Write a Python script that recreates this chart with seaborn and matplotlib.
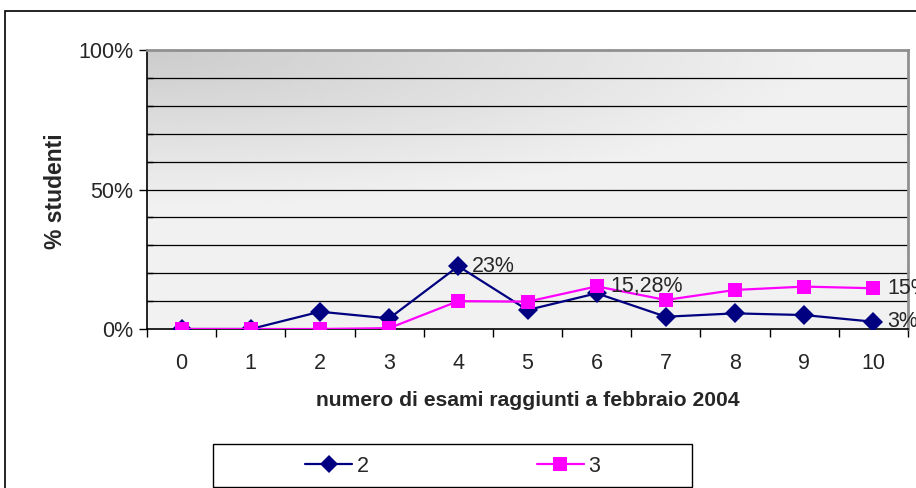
import numpy as np
import pandas as pd
import matplotlib
matplotlib.use("Agg")
import matplotlib.pyplot as plt
import seaborn as sns
from matplotlib.patches import Rectangle
from matplotlib.ticker import MultipleLocator, FixedLocator

esami = [0, 1, 2, 3, 4, 5, 6, 7, 8, 9, 10]
serie_2 = [0, 0, 6.2, 3.8, 22.5, 6.8, 12.8, 4.4, 5.6, 5.0, 2.6]
serie_3 = [0, 0, 0, 0.3, 10.0, 9.8, 15.28, 10.4, 14.0, 15.2, 14.6]
etichette = {("2", 4): "23%", ("3", 6): "15,28%", ("3", 10): "15%", ("2", 10): "3%"}

df = pd.DataFrame({
    "esami": esami * 2,
    "valore": serie_2 + serie_3,
    "serie": ["2"] * len(esami) + ["3"] * len(esami),
})

sns.set_style("white")
plt.rcParams["font.family"] = ["Liberation Sans", "DejaVu Sans"]

fig = plt.figure(figsize=(9.16, 4.88), dpi=100)
ax = fig.add_axes([147 / 916, 1 - 329 / 488, (908 - 147) / 916, (329 - 50) / 488])

# gradient background of the plot area (darker top-left)
gx, gy = np.meshgrid(np.linspace(0, 1, 200), np.linspace(0, 1, 100))
grad = np.clip(np.sqrt((gx * 1.0) ** 2 + (gy * 1.6) ** 2) / 0.9, 0, 1)
shade = 0.80 + 0.145 * grad
ax.imshow(shade, cmap="gray", vmin=0, vmax=1, extent=(-0.5, 10.5, 0, 100),
          origin="upper", aspect="auto", zorder=0, interpolation="bilinear")

for y in range(10, 100, 10):
    ax.axhline(y, color="black", lw=0.9, zorder=1)

colori = {"2": "#000080", "3": "#ff00ff"}
sns.lineplot(data=df, x="esami", y="valore", hue="serie", style="serie",
             palette=colori, markers={"2": "D", "3": "s"}, dashes=False,
             markersize=10.5, markeredgewidth=0, linewidth=1.6, ax=ax,
             legend=False, zorder=3)

for (s, i), txt in etichette.items():
    v = (serie_2 if s == "2" else serie_3)[i]
    ax.annotate(txt, (esami[i], v), xytext=(10, 0), textcoords="offset points",
                fontsize=15.5, va="center", ha="left", clip_on=False, zorder=4)

ax.set_xlim(-0.5, 10.5)
ax.set_ylim(0, 100)
ax.set_xticks(esami)
ax.set_xticklabels([str(e) for e in esami], fontsize=15.5)
ax.xaxis.set_minor_locator(FixedLocator(np.arange(-0.5, 11, 1)))
ax.tick_params(axis="x", which="major", length=0, pad=17)
ax.tick_params(axis="x", which="minor", length=6, width=1, direction="out",
               color="black", bottom=True)
ax.set_yticks([0, 50, 100])
ax.set_yticklabels(["0%", "50%", "100%"], fontsize=15.5)
ax.yaxis.set_minor_locator(MultipleLocator(10))
ax.tick_params(axis="y", which="major", length=6, width=1, direction="out",
               color="black", left=True, pad=4)
ax.tick_params(axis="y", which="minor", length=4, width=1, direction="in",
               color="black", left=True)

ax.set_xlabel("numero di esami raggiunti a febbraio 2004", fontsize=15.2,
              fontweight="bold", va="center")
ax.xaxis.set_label_coords(0.5, (329 - 400) / 279)
ax.set_ylabel("% studenti", fontsize=16.5, fontweight="bold", va="center")
ax.yaxis.set_label_coords((55 - 147) / 761, (329 - 191) / 279)

for side in ["left", "bottom"]:
    ax.spines[side].set_color("black")
    ax.spines[side].set_linewidth(1.2)
for side in ["top", "right"]:
    ax.spines[side].set_color("#909090")
    ax.spines[side].set_linewidth(2)

# outer chart border
fig.patches.append(Rectangle((5 / 916, -0.01), 1.0, 1 - 11 / 488 + 0.01,
                             transform=fig.transFigure, fill=False,
                             edgecolor="black", lw=1.2))

# legend
fig.patches.append(Rectangle((213 / 916, 1 - 487 / 488), 479 / 916, 43 / 488,
                             transform=fig.transFigure, fill=False,
                             edgecolor="black", lw=1))
handles = [
    plt.Line2D([], [], color=colori["2"], marker="D", markersize=9.5, lw=1.6,
               markeredgewidth=0),
    plt.Line2D([], [], color=colori["3"], marker="s", markersize=10.5, lw=1.6,
               markeredgewidth=0),
]
fig.legend(handles, ["2", "3"], loc="center", bbox_to_anchor=(452.5 / 916, 1 - 466 / 488),
           ncol=2, frameon=False, fontsize=15.5, handlelength=2.2,
           handletextpad=0.2, columnspacing=7.8)

fig.savefig("out.png", dpi=100)
